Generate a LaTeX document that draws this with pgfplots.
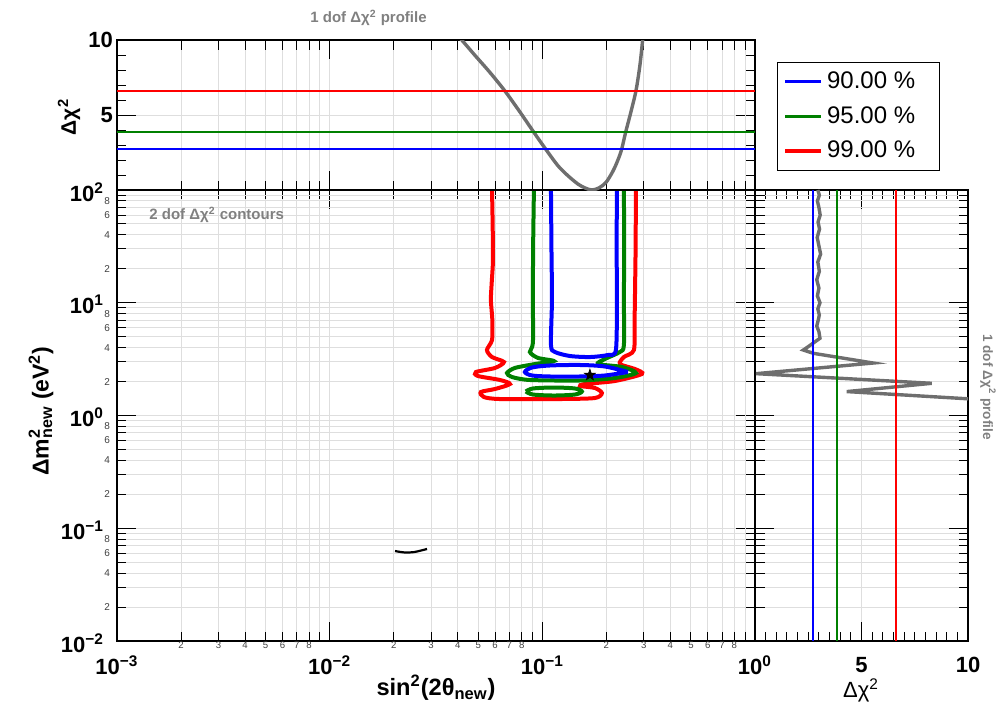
\documentclass[border=0pt]{standalone}
\usepackage{fontspec}
\setmainfont{Liberation Sans}
\usepackage{pgfplots}
\pgfplotsset{compat=1.18}
\definecolor{cblue}{RGB}{0,0,255}
\definecolor{cgreen}{RGB}{0,128,0}
\definecolor{cred}{RGB}{255,0,0}
\definecolor{prof}{RGB}{110,110,110}
\definecolor{gridc}{RGB}{222,222,222}
\definecolor{txtgray}{RGB}{128,128,128}

\pgfdeclareplotmark{fstar}{%
 \pgfpathmoveto{\pgfqpoint{0pt}{\pgfplotmarksize}}%
 \pgfpathlineto{\pgfqpoint{-0.2351\pgfplotmarksize}{0.3236\pgfplotmarksize}}%
 \pgfpathlineto{\pgfqpoint{-0.9511\pgfplotmarksize}{0.3090\pgfplotmarksize}}%
 \pgfpathlineto{\pgfqpoint{-0.3804\pgfplotmarksize}{-0.1236\pgfplotmarksize}}%
 \pgfpathlineto{\pgfqpoint{-0.5878\pgfplotmarksize}{-0.8090\pgfplotmarksize}}%
 \pgfpathlineto{\pgfqpoint{0pt}{-0.4\pgfplotmarksize}}%
 \pgfpathlineto{\pgfqpoint{0.5878\pgfplotmarksize}{-0.8090\pgfplotmarksize}}%
 \pgfpathlineto{\pgfqpoint{0.3804\pgfplotmarksize}{-0.1236\pgfplotmarksize}}%
 \pgfpathlineto{\pgfqpoint{0.9511\pgfplotmarksize}{0.3090\pgfplotmarksize}}%
 \pgfpathlineto{\pgfqpoint{0.2351\pgfplotmarksize}{0.3236\pgfplotmarksize}}%
 \pgfpathclose\pgfusepathqfillstroke}

\newcommand{\tl}{\fontsize{11bp}{13bp}\selectfont\bfseries}
\pgfplotsset{
  myaxis/.style={
    scale only axis,
    axis line style={black, line width=0.75bp},
    tick style={black, line width=0.5bp},
    major tick length=9.5bp,
    minor tick length=4.75bp,
    tick align=inside,
    tick label style={font=\tl},
    major grid style={gridc, line width=0.5bp},
    minor grid style={gridc, line width=0.5bp},
  },
  minorx/.style={extra x ticks={0.002,0.003,0.004,0.005,0.006,0.007,0.008,0.009,0.02,0.03,0.04,0.05,0.06,0.07,0.08,0.09,0.2,0.3,0.4,0.5,0.6,0.7,0.8,0.9}},
  minory/.style={extra y ticks={0.02,0.03,0.04,0.05,0.06,0.07,0.08,0.09,0.2,0.3,0.4,0.5,0.6,0.7,0.8,0.9,2,3,4,5,6,7,8,9,20,30,40,50,60,70,80,90}},
}

\begin{document}
\begin{tikzpicture}
\useasboundingbox (0bp,0bp) rectangle (500bp,-354bp);

% ---------------- main panel ----------------
\begin{axis}[myaxis, at={(58.5bp,-320.5bp)}, anchor=south west,
  width=319bp, height=225.5bp,
  xmode=log, ymode=log, xmin=1e-3, xmax=1, ymin=1e-2, ymax=1e2,
  xtick={1e-3,1e-2,1e-1,1},
  xticklabels={10\textsuperscript{−3},10\textsuperscript{−2},10\textsuperscript{−1},10\textsuperscript{0}},
  ytick={1e-2,1e-1,1,1e1,1e2},
  yticklabels={10\textsuperscript{−2},10\textsuperscript{−1},10\textsuperscript{0},10\textsuperscript{1},10\textsuperscript{2}},
  minor xtick={}, minor ytick={},
  xmajorgrids, ymajorgrids,
  xticklabel style={yshift=-4bp},
  yticklabel style={xshift=-3bp, yshift=-1bp},
  minorx, minory,
  extra x tick labels={2,3,4,5,6,7,8,,2,3,4,5,6,7,8,,2,3,4,5,6,7,8,},
  extra y tick labels={2,,4,,6,,8,,2,,4,,6,,8,,2,,4,,6,,8,,2,,4,,6,,8,},
  extra x tick style={major tick length=4.75bp, grid=major, major grid style={gridc},
     tick label style={font=\fontsize{4.8bp}{5.5bp}\selectfont, text=black!75, inner sep=1bp},
     xticklabel style={yshift=5bp}},
  extra y tick style={major tick length=4.75bp, grid=major, major grid style={gridc},
     tick label style={font=\fontsize{5bp}{6bp}\selectfont, text=black!75},
     yticklabel style={xshift=3bp, yshift=1bp}},
]
% 99%
\addplot[cred, line width=2bp, smooth, tension=0.45] coordinates {
(0.0580,100) (0.0584,50) (0.0586,23.9) (0.0578,15) (0.0573,10.6) (0.0582,7) (0.0580,4.67) (0.0549,3.81) (0.0580,3.30) (0.0660,2.98) (0.0599,2.64) (0.0487,2.43) (0.0498,2.24) (0.0632,2.065) (0.0704,1.903) (0.0599,1.718) (0.0514,1.616) (0.0531,1.459) (0.0632,1.400) (0.1210,1.400) (0.1767,1.429) (0.1906,1.583) (0.1767,1.754) (0.1503,1.827) (0.1586,1.903) (0.2194,2.023) (0.2939,2.334) (0.2725,2.585) (0.2316,2.862) (0.2419,3.303) (0.2696,3.81) (0.2715,7) (0.2725,10.6) (0.2745,30) (0.2755,100)};
% 95%
\addplot[cgreen, line width=2bp, smooth, tension=0.45] coordinates {
(0.0913,100) (0.0905,30) (0.0903,10.6) (0.0903,4.40) (0.0874,3.66) (0.0954,3.24) (0.1134,3.04) (0.0923,2.86) (0.0743,2.64) (0.0682,2.38) (0.0720,2.195) (0.0874,2.065) (0.1503,2.044) (0.2194,2.151) (0.2755,2.382) (0.2367,2.693) (0.1826,2.862) (0.1969,3.17) (0.2316,3.66) (0.2419,4.22) (0.2419,10.6) (0.2425,30) (0.2419,100)};
\addplot[cgreen, line width=2bp, smooth, tension=0.5] coordinates {
(0.0837,1.633) (0.0903,1.736) (0.1134,1.771) (0.1423,1.736) (0.1535,1.633) (0.1423,1.535) (0.1134,1.504) (0.0903,1.535) (0.0837,1.633)};
% 90%
\addplot[cblue, line width=2bp, smooth, tension=0.45] coordinates {
(0.1098,100) (0.1104,30) (0.1110,10.6) (0.1098,4.22) (0.1146,3.66) (0.1348,3.37) (0.1674,3.30) (0.2034,3.44) (0.2218,3.81) (0.2242,10.6) (0.2236,30) (0.2242,100)};
\addplot[cblue, line width=2bp, smooth, tension=0.5] coordinates {
(0.2526,2.431) (0.1969,2.720) (0.1503,2.805) (0.1086,2.777) (0.0894,2.665) (0.0828,2.431) (0.0894,2.264) (0.1086,2.218) (0.1503,2.218) (0.1969,2.264) (0.2526,2.431)};
% small black island
\addplot[black, line width=1.1bp, smooth] coordinates {(0.0203,0.0628) (0.0225,0.0610) (0.0250,0.0615) (0.0287,0.0655)};
% best fit
\addplot[only marks, mark=fstar, mark size=2.8bp, black] coordinates {(0.1674,2.287)};
\end{axis}

% ---------------- top panel ----------------
\begin{axis}[myaxis, at={(58.5bp,-95bp)}, anchor=south west,
  width=319bp, height=75bp,
  xmode=log, xmin=1e-3, xmax=1, ymin=0, ymax=10,
  xtick={1e-3,1e-2,1e-1,1}, xticklabels={}, minor xtick={},
  minorx, extra x tick labels={},
  extra x tick style={major tick length=4.75bp, grid=major, major grid style={gridc}},
  xmajorgrids,
  ytick={0,5,10}, yticklabels={,5,10}, minor y tick num=4, ymajorgrids,
  yticklabel style={xshift=1.5bp},
  legend style={at={(1.0345,0.853)}, anchor=north west, draw=black, line width=0.5bp,
    font=\fontsize{12bp}{14bp}\selectfont, inner xsep=3bp, inner ysep=2.5bp, row sep=3bp,
    nodes={inner sep=2.2bp}},
  legend cell align=left,
  legend image code/.code={\draw[#1, line width=1.6bp, opacity=1] (0bp,0bp) -- (18bp,0bp);},
]
\addplot[prof, line width=1.7bp, smooth, forget plot] coordinates {
(0.0368,10.9) (0.0418,10) (0.0482,8.98) (0.0567,7.84) (0.0667,6.6) (0.0785,5.2) (0.0913,3.84) (0.1040,2.70) (0.1184,1.62) (0.1320,0.95) (0.1470,0.40) (0.1586,0.14) (0.1711,0.0) (0.1846,0.14) (0.1991,0.5) (0.2147,1.25) (0.2267,2.0) (0.2359,2.7) (0.2464,3.84) (0.2609,5.2) (0.2755,6.6) (0.2876,8.3) (0.2962,10) (0.3004,11)};
\addplot[cblue, line width=1bp] coordinates {(1e-3,2.71) (1,2.71)};
\addlegendentry{90.00 \%\hspace*{7bp}}
\addplot[cgreen, line width=1bp] coordinates {(1e-3,3.84) (1,3.84)};
\addlegendentry{95.00 \%\hspace*{7bp}}
\addplot[cred, line width=1bp] coordinates {(1e-3,6.63) (1,6.63)};
\addlegendentry{99.00 \%\hspace*{7bp}}
\end{axis}

% ---------------- right panel ----------------
\begin{axis}[myaxis, at={(377.5bp,-320.5bp)}, anchor=south west,
  width=106.5bp, height=225.5bp,
  ymode=log, ymin=1e-2, ymax=1e2, xmin=0, xmax=10,
  xtick={0,5,10}, xticklabels={,5,10}, minor x tick num=9, xmajorgrids,
  xticklabel style={yshift=-4.5bp},
  ytick={1e-2,1e-1,1,1e1,1e2}, yticklabels={}, minor ytick={}, ymajorgrids,
  minory, extra y tick labels={},
  extra y tick style={major tick length=4.75bp, grid=major, major grid style={gridc}},
]
\addplot[prof, line width=1.7bp] coordinates {
(2.95,100) (3.02,90) (2.93,80) (3.00,70) (3.06,60) (2.96,52) (3.03,45) (2.92,38) (3.00,32) (3.08,27) (2.95,23) (3.02,19) (2.90,16) (3.00,13.5) (2.93,11.5) (3.05,10) (2.95,8.8) (3.02,7.8) (2.97,7.03) (2.90,6.2) (3.00,5.54) (3.05,4.84) (2.50,4.08) (2.27,3.81) (2.74,3.56) (5.55,2.92) (0.05,2.35) (8.30,1.93) (4.31,1.63) (11.0,1.37)};
\addplot[cblue, line width=1bp] coordinates {(2.71,1e-2) (2.71,1e2)};
\addplot[cgreen, line width=1bp] coordinates {(3.84,1e-2) (3.84,1e2)};
\addplot[cred, line width=1bp] coordinates {(6.63,1e-2) (6.63,1e2)};
\end{axis}

% ---------------- texts ----------------
\node[anchor=west, inner sep=0pt, text=txtgray, font=\fontsize{7.5bp}{9bp}\selectfont\bfseries] at (155bp,-9bp) {1 dof Δχ\textsuperscript{2} profile};
\node[anchor=west, inner sep=0pt, text=txtgray, font=\fontsize{7.5bp}{9bp}\selectfont\bfseries] at (74.5bp,-107.5bp) {2 dof Δχ\textsuperscript{2} contours};
\node[rotate=-90, text=txtgray, font=\fontsize{6.8bp}{8bp}\selectfont\bfseries] at (494bp,-193.5bp) {1 dof Δχ\textsuperscript{2} profile};
\node[font=\fontsize{11.8bp}{14bp}\selectfont\bfseries] at (218bp,-344bp) {sin\textsuperscript{2}(2θ\textsubscript{new})};
\node[rotate=90, font=\fontsize{11.5bp}{14bp}\selectfont\bfseries] at (20.5bp,-205.5bp) {Δm\rlap{\textsuperscript{2}}\textsubscript{new} (eV\textsuperscript{2})};
\node[rotate=90, font=\fontsize{10.5bp}{12bp}\selectfont\bfseries] at (34.5bp,-58.5bp) {Δχ\textsuperscript{2}};
\node[font=\fontsize{11bp}{13bp}\selectfont] at (430.5bp,-345bp) {Δχ\textsuperscript{2}};
\end{tikzpicture}
\end{document}
